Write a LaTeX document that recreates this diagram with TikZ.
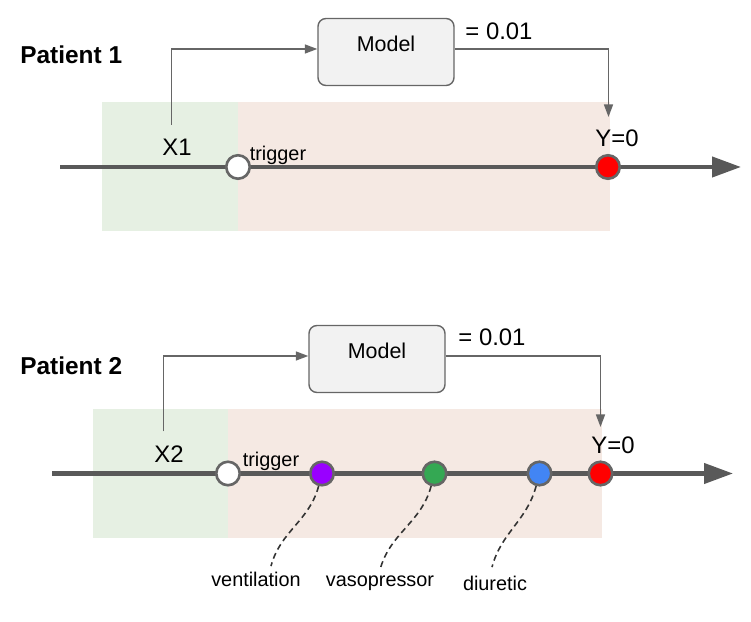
\documentclass[tikz,border=0pt]{standalone}
\usepackage{fontspec}
\setmainfont{Liberation Sans}
\usetikzlibrary{arrows.meta,positioning,calc}
\definecolor{LineGray}{HTML}{595959}
\definecolor{EdgeGray}{HTML}{666666}
\definecolor{PreGreen}{HTML}{E6F0E3}
\definecolor{PostPink}{HTML}{F5E9E3}
\definecolor{BoxGray}{HTML}{F2F2F2}
\definecolor{EvRed}{HTML}{FF0000}
\definecolor{EvPurple}{HTML}{9900FF}
\definecolor{EvGreen}{HTML}{34A853}
\definecolor{EvBlue}{HTML}{4285F4}

\begin{document}
\begin{tikzpicture}[x=0.02cm,y=0.02cm,
  model/.style={draw=EdgeGray,fill=BoxGray,line width=0.8pt,rounded corners=4.5pt,minimum width=2.72cm,minimum height=1.34cm,text depth=0.33cm,font=\fontsize{12.2}{14}\selectfont},
  event/.style={circle,draw=EdgeGray,line width=1.5pt,minimum size=0.47cm,inner sep=0pt},
  timeline/.style={-{Triangle[length=0.58cm,width=0.4cm]},line width=2.4pt,LineGray},
  feed/.style={-{Triangle[length=0.25cm,width=0.18cm]},line width=0.85pt,EdgeGray},
  big/.style={font=\fontsize{13.6}{16}\selectfont},
  small/.style={font=\fontsize{11.3}{13}\selectfont},
  title/.style={anchor=base west,inner sep=0pt,font=\fontsize{13.9}{17}\selectfont\bfseries},
  treat/.style={line width=0.9pt,black!80,dash pattern=on 3.4pt off 2.3pt}]
  \useasboundingbox (0,0) rectangle (751,622);
  % patient 1
  \fill[PreGreen] (102,391) rectangle (238,520);
  \fill[PostPink] (238,391) rectangle (610,520);
  \coordinate (p1start) at (60,455);
  \coordinate (p1end) at (741,455);
  \draw[timeline] (p1start) -- (p1end);
  \node[event,fill=white] (p1trig) at (238,455) {};
  \node[event,fill=EvRed] (p1y) at (608,455) {};
  \node[title] (p1name) at (20,558.7) {Patient 1};
  \node[big] (p1x) at (177,475) {X1};
  \node[small,anchor=base] (p1trigtxt) at (278,461) {trigger};
  \node[big,anchor=base] (p1ytxt) at (617,475) {Y=0};
  \node[model] (p1model) at (386,570) {Model};
  \node[big,anchor=base] (p1prob) at (499,582.7) {= 0.01};
  \coordinate (p1in) at (171.5,497);
  \coordinate (p1hit) at (608.5,505);
  \draw[feed] (p1in) |- ([yshift=0.06cm]p1model.west);
  \draw[feed] ([yshift=0.06cm]p1model.east) -| (p1hit);
  % patient 2
  \fill[PreGreen] (93,84) rectangle (228,213);
  \fill[PostPink] (228,84) rectangle (602,213);
  \coordinate (p2start) at (52,148.5);
  \coordinate (p2end) at (733,148.5);
  \draw[timeline] (p2start) -- (p2end);
  \node[event,fill=white] (p2trig) at (228,148.5) {};
  \node[event,fill=EvPurple] (p2vent) at (322,148.5) {};
  \node[event,fill=EvGreen] (p2vaso) at (434.5,148.5) {};
  \node[event,fill=EvBlue] (p2diur) at (539.5,148.5) {};
  \node[event,fill=EvRed] (p2y) at (600.5,148.5) {};
  \node[title] (p2name) at (20,247) {Patient 2};
  \node[big] (p2x) at (169,168) {X2};
  \node[small,anchor=base] (p2trigtxt) at (271,155.3) {trigger};
  \node[big,anchor=base] (p2ytxt) at (613,168.7) {Y=0};
  \node[model] (p2model) at (377,263) {Model};
  \node[big,anchor=base] (p2prob) at (492,276.3) {= 0.01};
  \coordinate (p2in) at (163.5,190.5);
  \coordinate (p2hit) at (600.5,195);
  \draw[feed] (p2in) |- ([yshift=0.06cm]p2model.west);
  \draw[feed] ([yshift=0.06cm]p2model.east) -| (p2hit);
  % treatments
  \node[small,anchor=base] (ventlab) at (256,35.3) {ventilation};
  \node[small,anchor=base] (vasolab) at (380,35.3) {vasopressor};
  \node[small,anchor=base] (diurlab) at (495,31.3) {diuretic};
  \draw[treat] (p2vent) to[out=-105,in=75] ([xshift=0.3cm]ventlab.north);
  \draw[treat] (p2vaso) to[out=-105,in=75] (vasolab.north);
  \draw[treat] (p2diur) to[out=-105,in=75] ([xshift=-0.06cm,yshift=0.06cm]diurlab.north);
\end{tikzpicture}
\end{document}
